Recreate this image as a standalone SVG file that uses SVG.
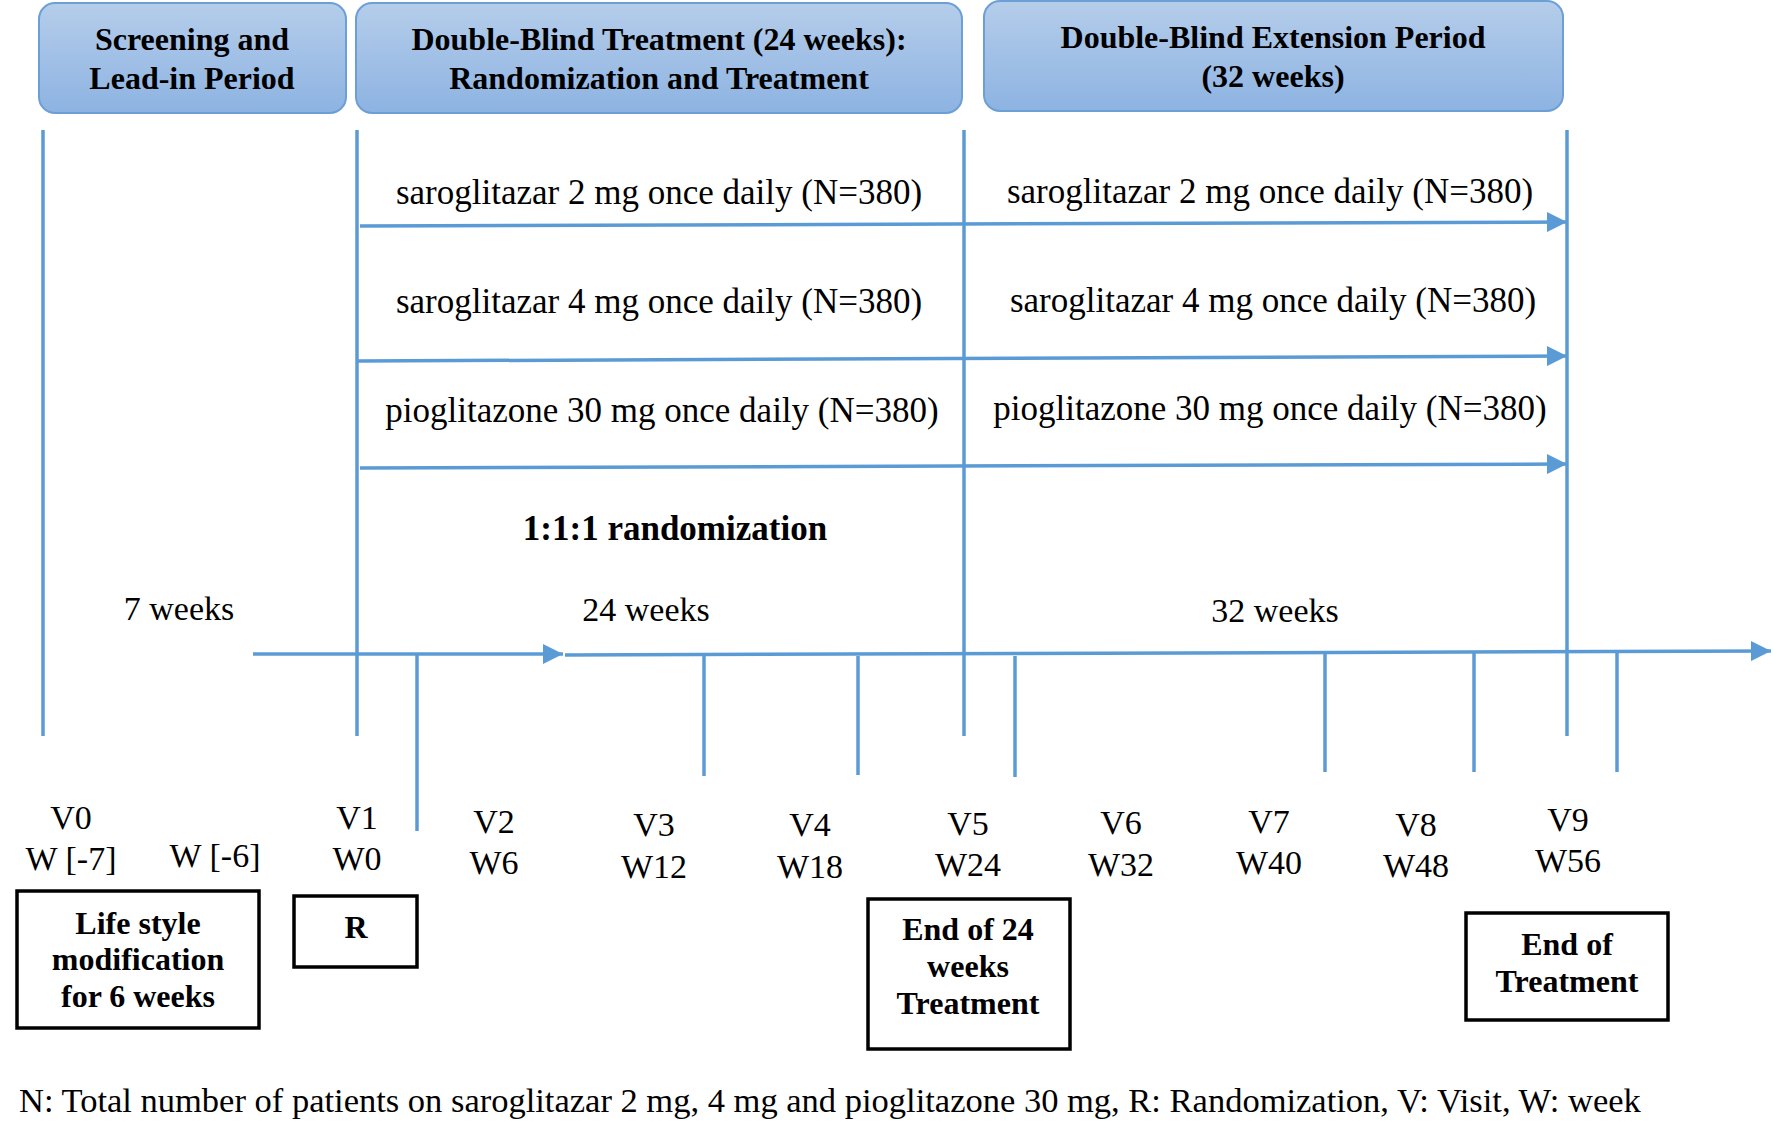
<svg xmlns="http://www.w3.org/2000/svg" width="1773" height="1124" viewBox="0 0 1773 1124">
<defs>
<linearGradient id="hg" x1="0" y1="0" x2="0" y2="1">
<stop offset="0" stop-color="#b5cdea"/>
<stop offset="1" stop-color="#8db3e2"/>
</linearGradient>
<marker id="arr" viewBox="0 0 10 10" refX="10" refY="5" markerWidth="20" markerHeight="20" markerUnits="userSpaceOnUse" orient="auto">
<path d="M0,0 L10,5 L0,10 Z" fill="#5b9bd5"/>
</marker>
<style>
.hdr{fill:url(#hg);stroke:#6b9fd6;stroke-width:2}
.ht{font-family:"Liberation Serif",serif;font-weight:bold;font-size:32px;fill:#000;text-anchor:middle}
.ln{stroke:#5b9bd5;stroke-width:3.5;fill:none}
.t{font-family:"Liberation Serif",serif;font-size:35px;fill:#000;text-anchor:middle}
.w{font-family:"Liberation Serif",serif;font-size:34px;fill:#000;text-anchor:middle}
.v{font-family:"Liberation Serif",serif;font-size:34px;fill:#000;text-anchor:middle}
.bx{fill:#fff;stroke:#000;stroke-width:3.5}
.bt{font-family:"Liberation Serif",serif;font-weight:bold;font-size:32px;fill:#000;text-anchor:middle}
</style>
</defs>
<rect width="1773" height="1124" fill="#fff"/>

<g id="hdr-screening">
<rect class="hdr" x="39" y="3" width="307" height="110" rx="16"/>
<text class="ht" x="192" y="50">Screening and</text>
<text class="ht" x="192" y="89">Lead-in Period</text>
</g>
<g id="hdr-doubleblind">
<rect class="hdr" x="356" y="3" width="606" height="110" rx="16"/>
<text class="ht" x="659" y="50">Double-Blind Treatment (24 weeks):</text>
<text class="ht" x="659" y="89">Randomization and Treatment</text>
</g>
<g id="hdr-extension">
<rect class="hdr" x="984" y="1" width="579" height="110" rx="16"/>
<text class="ht" x="1273" y="48">Double-Blind Extension Period</text>
<text class="ht" x="1273" y="87">(32 weeks)</text>
</g>

<g id="connectors">
<line class="ln" x1="43" y1="130" x2="43" y2="736"/>
<line class="ln" x1="357" y1="130" x2="357" y2="736"/>
<line class="ln" x1="964" y1="130" x2="964" y2="736"/>
<line class="ln" x1="1567" y1="130" x2="1567" y2="736"/>
<line class="ln" x1="360" y1="226" x2="1567" y2="222" marker-end="url(#arr)"/>
<line class="ln" x1="357" y1="361" x2="1567" y2="356" marker-end="url(#arr)"/>
<line class="ln" x1="360" y1="468" x2="1567" y2="464" marker-end="url(#arr)"/>
<line class="ln" x1="253" y1="654" x2="563" y2="654" marker-end="url(#arr)"/>
<line class="ln" x1="565" y1="655" x2="1771" y2="651" marker-end="url(#arr)"/>
<line class="ln" x1="417" y1="654" x2="417" y2="831"/>
<line class="ln" x1="704" y1="656" x2="704" y2="776"/>
<line class="ln" x1="858" y1="656" x2="858" y2="775"/>
<line class="ln" x1="1015" y1="656" x2="1015" y2="777"/>
<line class="ln" x1="1325" y1="653" x2="1325" y2="772"/>
<line class="ln" x1="1474" y1="653" x2="1474" y2="772"/>
<line class="ln" x1="1617" y1="652" x2="1617" y2="772"/>
</g>

<g id="arm-labels">
<text class="t" x="659" y="204">saroglitazar 2 mg once daily (N=380)</text>
<text class="t" x="1270" y="203">saroglitazar 2 mg once daily (N=380)</text>
<text class="t" x="659" y="313">saroglitazar 4 mg once daily (N=380)</text>
<text class="t" x="1273" y="312">saroglitazar 4 mg once daily (N=380)</text>
<text class="t" x="662" y="422">pioglitazone 30 mg once daily (N=380)</text>
<text class="t" x="1270" y="420">pioglitazone 30 mg once daily (N=380)</text>
<text class="bt" x="675" y="540" style="font-size:35px">1:1:1 randomization</text>
<text class="w" x="179" y="620">7 weeks</text>
<text class="w" x="646" y="621">24 weeks</text>
<text class="w" x="1275" y="622">32 weeks</text>
</g>

<g id="visit-labels">
<text class="v" x="71" y="829">V0</text>
<text class="v" x="71" y="870">W [-7]</text>
<text class="v" x="215" y="867">W [-6]</text>
<text class="v" x="357" y="829">V1</text>
<text class="v" x="357" y="870">W0</text>
<text class="v" x="494" y="833">V2</text>
<text class="v" x="494" y="874">W6</text>
<text class="v" x="654" y="836">V3</text>
<text class="v" x="654" y="878">W12</text>
<text class="v" x="810" y="836">V4</text>
<text class="v" x="810" y="878">W18</text>
<text class="v" x="968" y="835">V5</text>
<text class="v" x="968" y="876">W24</text>
<text class="v" x="1121" y="834">V6</text>
<text class="v" x="1121" y="876">W32</text>
<text class="v" x="1269" y="833">V7</text>
<text class="v" x="1269" y="874">W40</text>
<text class="v" x="1416" y="836">V8</text>
<text class="v" x="1416" y="877">W48</text>
<text class="v" x="1568" y="831">V9</text>
<text class="v" x="1568" y="872">W56</text>
</g>

<g id="box-lifestyle">
<rect class="bx" x="17" y="891" width="242" height="137"/>
<text class="bt" x="138" y="934">Life style</text>
<text class="bt" x="138" y="970">modification</text>
<text class="bt" x="138" y="1007">for 6 weeks</text>
</g>
<g id="box-r">
<rect class="bx" x="294" y="896" width="123" height="71"/>
<text class="bt" x="356" y="938">R</text>
</g>
<g id="box-end24">
<rect class="bx" x="868" y="899" width="202" height="150"/>
<text class="bt" x="968" y="940">End of 24</text>
<text class="bt" x="968" y="977">weeks</text>
<text class="bt" x="968" y="1014">Treatment</text>
</g>
<g id="box-endtreat">
<rect class="bx" x="1466" y="913" width="202" height="107"/>
<text class="bt" x="1567" y="955">End of</text>
<text class="bt" x="1567" y="992">Treatment</text>
</g>

<g id="footer">
<text x="19" y="1112" style="font-family:'Liberation Serif',serif;font-size:34.5px;fill:#000">N: Total number of patients on saroglitazar 2 mg, 4 mg and pioglitazone 30 mg, R: Randomization, V: Visit, W: week</text>
</g>
</svg>
